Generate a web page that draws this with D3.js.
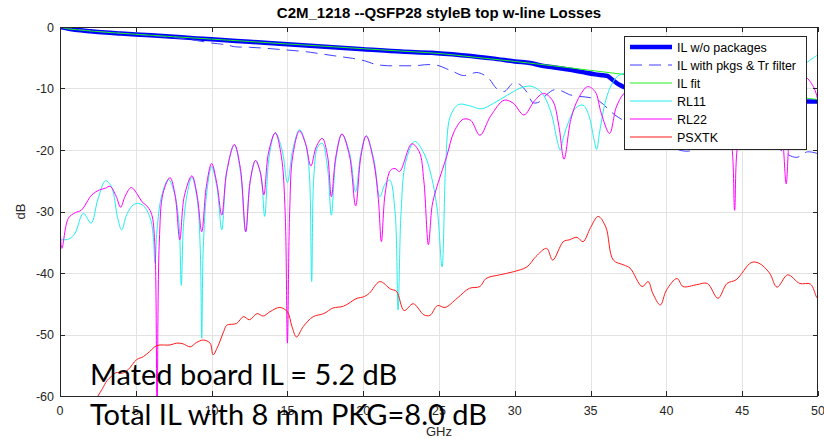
<!DOCTYPE html>
<html>
<head>
<meta charset="utf-8">
<script src="https://cdn.jsdelivr.net/npm/d3@7"></script>
<style>
  html, body { margin: 0; padding: 0; background: #fff; }
  svg { display: block; }
</style>
</head>
<body>
<div id="chart"></div>
<script>
// ---------- data (frequency in GHz, level in dB) ----------
const xTicks = [0, 5, 10, 15, 20, 25, 30, 35, 40, 45, 50];
const yTicks = [0, -10, -20, -30, -40, -50, -60];

const ilFreq = [0, 0.5, 1, 2, 3, 4, 5, 6, 7.5, 9, 10, 12.5, 15, 17.5, 20, 22.5, 24.5, 26.5, 28.5, 30, 31, 31.8, 32.5, 33.2, 34, 34.7, 35.3, 35.8, 36.1, 36.4, 36.9, 37.4, 38, 39, 40.5, 42, 44, 46, 48, 49.2, 50];
const ilVals = [0, -0.25, -0.45, -0.7, -0.9, -1.05, -1.2, -1.35, -1.6, -1.85, -2.0, -2.4, -2.8, -3.2, -3.6, -4.0, -4.2, -4.6, -5.1, -5.6, -5.85, -6.3, -6.55, -6.8, -7.1, -7.45, -7.7, -7.85, -7.95, -8.5, -9.4, -9.95, -10.3, -10.7, -11.0, -11.3, -11.5, -11.7, -11.9, -12.1, -12.1];

const pkgFreq = [0, 2, 4, 6, 8, 9, 10, 11, 11.5, 12.5, 13.5, 14.5, 15.5, 16.5, 17.3, 18, 18.6, 19.3, 20.1, 20.8, 21.6, 22.5, 23.4, 24.4, 25, 25.5, 25.9, 26.6, 27.1, 27.5, 27.9, 28.3, 28.8, 29.3, 29.9, 30.3, 30.8, 31.2, 31.6, 32.1, 32.6, 33.1, 33.6, 34.3, 35.0, 35.6, 36.1, 36.6, 37.1, 38, 39, 40, 41.3, 42.5, 44, 45.5, 47, 47.9, 48.6, 49.3, 50];
const pkgVals = [0, -0.6, -1.0, -1.4, -1.85, -2.2, -2.6, -2.9, -3.2, -3.3, -3.45, -3.65, -3.85, -4.1, -4.4, -4.65, -4.85, -5.1, -5.5, -6.07, -6.3, -6.3, -6.3, -6.1, -6.3, -6.8, -7.2, -7.9, -7.6, -7.4, -7.7, -8.4, -10.0, -10.5, -9.1, -9.3, -10.6, -12.3, -12.2, -11.0, -10.2, -10.4, -11.0, -11.3, -11.5, -12.1, -13.2, -14.3, -15.1, -16.5, -18, -19.2, -20.2, -19.4, -18.8, -18.8, -19.2, -20.6, -21.2, -20.3, -20.6];

const fitFreq = [0, 0.5, 1, 2.5, 5, 7.5, 10, 12.5, 15, 17.5, 20, 22.5, 25, 27.5, 30, 32.5, 35, 37.5, 40, 42.5, 45, 47.5, 50];
const fitVals = [0, -0.3, -0.42, -0.75, -1.18, -1.58, -1.97, -2.36, -2.76, -3.14, -3.53, -3.92, -4.3, -4.95, -5.6, -6.3, -7.05, -7.8, -8.6, -9.4, -10.2, -11.0, -11.8];

const rl11Freq = [0, 0.3, 0.65, 1.0, 1.54, 2.05, 2.5, 3.0, 3.4, 3.8, 4.07, 4.4, 4.84, 5.2, 5.6, 6.0, 6.15, 6.27, 6.4, 6.7, 7.15, 7.55, 7.85, 8.0, 8.15, 8.4, 8.7, 9.05, 9.25, 9.35, 9.45, 9.7, 10.0, 10.35, 10.67, 11.0, 11.5, 11.9, 12.25, 12.55, 12.9, 13.25, 13.5, 13.8, 14.2, 14.65, 15.0, 15.35, 15.8, 16.2, 16.45, 16.6, 16.75, 17.0, 17.3, 17.65, 17.9, 18.2, 18.6, 19.1, 19.5, 19.85, 20.2, 20.7, 21.1, 21.45, 21.75, 22.1, 22.3, 22.5, 22.8, 23.4, 24.0, 24.5, 24.9, 25.2, 25.45, 25.75, 26.3, 27.0, 27.8, 28.6, 29.5, 30.3, 31.0, 31.5, 31.9, 32.4, 32.8, 33.0, 33.2, 33.6, 34.0, 34.5, 34.9, 35.2, 35.4, 35.6, 36.0, 36.4, 36.9, 38, 39.5, 41, 42.5, 44, 45.5, 47, 48.2, 49.2, 50];
const rl11Vals = [-34.6, -34.6, -34.4, -33.5, -30.3, -31.9, -28.0, -25.0, -26.0, -31.0, -33.0, -30.5, -28.9, -28.7, -29.3, -31.5, -34, -38.4, -33, -27.5, -24.8, -27, -32, -42, -32, -27, -24.4, -28, -36, -50.6, -36, -26.5, -22.7, -26, -33, -23.5, -19.2, -23.5, -33.3, -25, -21.7, -24, -30.8, -21, -17.2, -20, -25.3, -20, -16.7, -19, -24, -41.4, -24, -19.5, -18.9, -23, -30.6, -21.5, -17.4, -20.5, -26.8, -20.5, -17.7, -21.5, -27.6, -25.5, -24.9, -30, -46.0, -30, -22, -18.6, -20.5, -24.3, -30, -39.0, -22, -14.5, -12.6, -12.8, -13.3, -12.4, -11.1, -10.0, -9.6, -10.1, -11.1, -14, -18.5, -20, -18, -15.1, -13.2, -12.7, -14.5, -18, -19.9, -17, -11.9, -9.3, -7.8, -7.5, -9, -12, -10, -14, -9, -13, -8, -5.9, -4.5];

const rl22Freq = [0, 0.12, 0.55, 1.0, 1.4, 2.1, 2.6, 3.0, 3.3, 3.7, 4.0, 4.3, 4.7, 5.1, 5.4, 5.8, 6.05, 6.25, 6.4, 6.55, 6.8, 7.26, 7.6, 7.9, 8.2, 8.7, 9.05, 9.35, 9.65, 10.0, 10.35, 10.67, 11.0, 11.5, 11.9, 12.25, 12.55, 12.9, 13.2, 13.45, 13.75, 14.2, 14.6, 14.85, 15.0, 15.15, 15.35, 15.8, 16.2, 16.55, 16.9, 17.3, 17.65, 17.9, 18.2, 18.6, 19.1, 19.5, 19.85, 20.2, 20.7, 21.0, 21.2, 21.45, 21.8, 22.1, 22.4, 23.2, 23.7, 24.0, 24.3, 24.55, 24.8, 25.5, 26.0, 26.6, 27.1, 27.7, 28.4, 29.3, 29.9, 30.6, 31.3, 31.9, 32.5, 32.9, 33.25, 33.7, 34.2, 34.8, 35.3, 35.7, 36.25, 36.7, 37.2, 38, 39.5, 41, 42.5, 43.8, 44.3, 44.5, 44.7, 45.3, 46.5, 47.5, 47.7, 47.9, 48.1, 48.5, 49.1, 49.7, 50];
const rl22Vals = [-22, -36, -31.1, -30.2, -29.8, -27.3, -26.5, -26.2, -25.9, -27.5, -29.3, -27.5, -26.1, -27.2, -28.4, -29.3, -30.5, -35, -63, -35, -27, -24.5, -27.5, -34.6, -27.5, -24.2, -27.5, -33.3, -26, -22.2, -25.5, -30.6, -23.5, -19.1, -23, -33.3, -25, -21.7, -23.5, -27.3, -20.5, -17.2, -21, -30, -51.4, -30, -21, -16.9, -19, -22.6, -19.5, -18.1, -21, -27.6, -21, -17.4, -21, -29.1, -21, -17.7, -22, -28, -34.9, -27, -23.3, -23, -23.5, -19.0, -20.3, -25, -35.4, -29, -26.5, -21.1, -17, -15.0, -15.2, -17.6, -14.5, -11.9, -12.4, -14.3, -12, -10.8, -12, -16, -21.5, -15, -11.6, -9.7, -10.5, -14.0, -17.3, -13, -10.8, -9.5, -11, -13, -11, -14, -19, -29.8, -19, -13, -11, -15, -19, -25.5, -18, -10, -8.1, -9.7, -12];

const xtFreq = [2.0, 2.5, 2.8, 3.1, 3.4, 3.7, 4.1, 4.5, 5.05, 5.5, 5.9, 6.4, 7.26, 7.7, 8.1, 8.6, 9.0, 9.45, 9.9, 10.1, 10.4, 10.8, 11.0, 11.65, 12.1, 12.5, 13.0, 13.4, 13.85, 14.5, 15.0, 15.3, 15.6, 16.05, 16.7, 17.4, 18.0, 18.7, 19.6, 20.0, 20.4, 21.1, 21.8, 22.2, 22.7, 23.3, 24.0, 24.4, 24.9, 25.4, 26.2, 27.0, 27.7, 28.1, 29.0, 29.9, 30.8, 31.4, 32.1, 32.5, 33.2, 33.6, 34.1, 34.5, 35.0, 35.5, 36.0, 36.5, 37.2, 37.6, 38.4, 38.8, 39.1, 39.6, 40.0, 40.7, 41.1, 42.0, 42.7, 43.4, 44.0, 44.6, 45.6, 46.1, 46.8, 47.3, 48.0, 48.8, 49.5, 49.9, 50];
const xtVals = [-62, -60, -58.8, -57.5, -56.8, -56.2, -56.3, -55.7, -54.1, -53.6, -52.8, -51.8, -51.7, -51.4, -51.5, -52, -51.3, -50.9, -51.4, -53.3, -52, -49.5, -48.5, -48.2, -47.1, -47.6, -46.6, -47, -46.3, -45.6, -46.3, -48.7, -50.4, -48.7, -47.1, -46.6, -45.7, -45.4, -44.1, -43.9, -43.3, -41.4, -42.6, -43.0, -46.1, -45.0, -46.8, -46.9, -45.3, -45.6, -44.1, -42.5, -42.2, -40.9, -40.3, -39.8, -39.0, -37.3, -36.0, -37.9, -34.9, -34.6, -34.2, -34.9, -32.6, -30.8, -32.5, -37.9, -38.7, -39.2, -42.2, -41.4, -43.3, -45.2, -42.8, -40.9, -42.2, -41.9, -41.7, -44.1, -41.7, -41.1, -38.3, -38.4, -40.0, -42.3, -40.3, -41.7, -41.8, -43.9, -44.2];

const seriesNames = ["IL w/o packages", "IL with pkgs & Tr filter", "IL fit", "RL11", "RL22", "PSXTK"];
const titleText = "C2M_1218 --QSFP28 styleB top w-line Losses";
const notes = ["Mated board IL = 5.2 dB", "Total IL with 8 mm PKG=8.0 dB"];

// ---------- layout ----------
const W = 824, H = 439;
const plot = { left: 60, right: 818, top: 27, bottom: 396 };
const axisColor = "#262626";
const gridColor = "#e3e3e3";
const uiFont = "'Liberation Sans', Arial, Helvetica, sans-serif";

const svg = d3.select("#chart").append("svg")
  .attr("width", W).attr("height", H)
  .attr("viewBox", `0 0 ${W} ${H}`);

const x = d3.scaleLinear().domain([0, 50]).range([plot.left, plot.right]);
const y = d3.scaleLinear().domain([-60, 0]).range([plot.bottom, plot.top]);

svg.append("defs").append("clipPath").attr("id", "plotClip")
  .append("rect")
  .attr("x", plot.left).attr("y", plot.top)
  .attr("width", plot.right - plot.left).attr("height", plot.bottom - plot.top);

// grid
const grid = svg.append("g");
grid.selectAll("line.vx").data(xTicks.slice(1, -1)).join("line")
  .attr("x1", d => Math.round(x(d)) + 0.5).attr("x2", d => Math.round(x(d)) + 0.5)
  .attr("y1", plot.top).attr("y2", plot.bottom)
  .attr("stroke", gridColor).attr("stroke-width", 1);
grid.selectAll("line.hy").data(yTicks.slice(1, -1)).join("line")
  .attr("y1", d => Math.round(y(d)) + 0.5).attr("y2", d => Math.round(y(d)) + 0.5)
  .attr("x1", plot.left).attr("x2", plot.right)
  .attr("stroke", gridColor).attr("stroke-width", 1);

// series
const toPts = (fs, vs) => fs.map((f, i) => [f, vs[i]]);
const line = d3.line().x(d => x(d[0])).y(d => y(d[1])).curve(d3.curveCatmullRom.alpha(0.5));

const series = [
  { pts: toPts(ilFreq, ilVals),   color: "#0000ff", width: 4.5, dash: null },
  { pts: toPts(pkgFreq, pkgVals), color: "#3f3fff", width: 1,   dash: "12,7" },
  { pts: toPts(fitFreq, fitVals), color: "#22ee22", width: 1,   dash: null },
  { pts: toPts(rl11Freq, rl11Vals), color: "#22eeee", width: 1, dash: null },
  { pts: toPts(rl22Freq, rl22Vals), color: "#ff00ff", width: 1, dash: null },
  { pts: toPts(xtFreq, xtVals),   color: "#ff1a1a", width: 1,   dash: null }
];

const lines = svg.append("g").attr("clip-path", "url(#plotClip)");
series.forEach(s => {
  lines.append("path")
    .attr("d", line(s.pts))
    .attr("fill", "none")
    .attr("stroke", s.color)
    .attr("stroke-width", s.width)
    .attr("stroke-linejoin", "round")
    .attr("stroke-dasharray", s.dash);
});

// axes box with inward ticks on all sides
const axes = svg.append("g").attr("font-family", uiFont).attr("font-size", 12.5).attr("fill", axisColor);
const tickLen = 5;
axes.append("rect")
  .attr("x", plot.left + 0.5).attr("y", plot.top + 0.5)
  .attr("width", plot.right - plot.left - 1).attr("height", plot.bottom - plot.top)
  .attr("fill", "none").attr("stroke", axisColor).attr("stroke-width", 1);

xTicks.forEach(t => {
  const px = Math.round(x(t)) + 0.5;
  axes.append("line").attr("x1", px).attr("x2", px).attr("y1", plot.bottom).attr("y2", plot.bottom - tickLen).attr("stroke", axisColor);
  axes.append("line").attr("x1", px).attr("x2", px).attr("y1", plot.top).attr("y2", plot.top + tickLen).attr("stroke", axisColor);
  axes.append("text").attr("x", x(t)).attr("y", plot.bottom + 19)
    .attr("text-anchor", "middle").text(t);
});
yTicks.forEach(t => {
  const py = Math.round(y(t)) + 0.5;
  axes.append("line").attr("y1", py).attr("y2", py).attr("x1", plot.left).attr("x2", plot.left + tickLen).attr("stroke", axisColor);
  axes.append("line").attr("y1", py).attr("y2", py).attr("x1", plot.right).attr("x2", plot.right - tickLen).attr("stroke", axisColor);
  axes.append("text").attr("x", plot.left - 6).attr("y", y(t) + 4.5)
    .attr("text-anchor", "end").text(t);
});

// axis labels and title
svg.append("text").attr("x", (plot.left + plot.right) / 2).attr("y", 436)
  .attr("text-anchor", "middle").attr("font-family", uiFont).attr("font-size", 13)
  .attr("fill", axisColor).text("GHz");
svg.append("text").attr("transform", `translate(25, ${(plot.top + plot.bottom) / 2}) rotate(-90)`)
  .attr("text-anchor", "middle").attr("font-family", uiFont).attr("font-size", 13)
  .attr("fill", axisColor).text("dB");
svg.append("text").attr("x", 439).attr("y", 18)
  .attr("text-anchor", "middle").attr("font-family", uiFont).attr("font-size", 15)
  .attr("font-weight", "bold").attr("fill", "#000").text(titleText);

// legend
const lg = { x: 624, y: 36, w: 182, h: 113, row: 18 };
const legend = svg.append("g");
legend.append("rect").attr("x", lg.x + 0.5).attr("y", lg.y + 0.5).attr("width", lg.w).attr("height", lg.h)
  .attr("fill", "#fff").attr("stroke", axisColor).attr("stroke-width", 1);
seriesNames.forEach((name, i) => {
  const s = series[i];
  const cy = lg.y + 11 + i * lg.row;
  legend.append("line").attr("x1", lg.x + 6).attr("x2", lg.x + 48).attr("y1", cy).attr("y2", cy)
    .attr("stroke", s.color).attr("stroke-width", s.width).attr("stroke-dasharray", s.dash);
  legend.append("text").attr("x", lg.x + 53).attr("y", cy + 4.5)
    .attr("font-family", uiFont).attr("font-size", 12.5).attr("fill", "#000").text(name);
});

// annotations
const noteG = svg.append("g").attr("font-family", "Lato, 'Open Sans', sans-serif").attr("fill", "#000");
notes.forEach((t, i) => {
  noteG.append("text").attr("x", 90).attr("y", 385 + i * 40).attr("font-size", 29).text(t);
});
</script>
</body>
</html>
